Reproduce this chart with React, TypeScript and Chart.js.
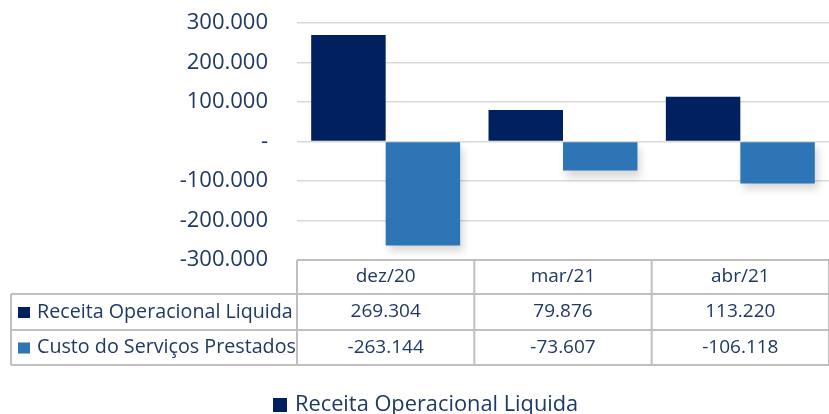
import React, { useEffect, useRef } from "react";
import { Chart, registerables } from "chart.js";

Chart.register(...registerables);

const categories = ["dez/20", "mar/21", "abr/21"];
const seriesNames = ["Receita Operacional Liquida", "Custo do Serviços Prestados"];
const receita = [269304, 79876, 113220];
const custo = [-263144, -73607, -106118];
const tableRow1 = ["269.304", "79.876", "113.220"];
const tableRow2 = ["-263.144", "-73.607", "-106.118"];
const colors = ["#002060", "#2E75B6"];

const TEXT = "#1F3864";
const FONT = "'Open Sans', 'Noto Sans', sans-serif";

function fmt(v: number): string {
  if (v === 0) return "-";
  const s = Math.abs(v).toString().replace(/\B(?=(\d{3})+(?!\d))/g, ".");
  return (v < 0 ? "-" : "") + s;
}

const shadowPlugin = {
  id: "barShadow",
  beforeDatasetDraw(chart: any, args: any) {
    if (args.index !== 1) return;
    const ctx = chart.ctx;
    ctx.save();
    ctx.shadowColor = "rgba(0,0,0,0.16)";
    ctx.shadowBlur = 8;
    ctx.shadowOffsetX = 3;
    ctx.shadowOffsetY = 6;
  },
  afterDatasetDraw(chart: any, args: any) {
    if (args.index !== 1) return;
    chart.ctx.restore();
  },
};

const tablePlugin = {
  id: "dataTable",
  afterDraw(chart: any) {
    const ctx = chart.ctx;
    const area = chart.chartArea;
    const xs = chart.scales.x;
    const n = categories.length;
    const colW = (area.right - area.left) / n;
    const left = 11;
    const yTop = area.bottom;
    const y1 = 294;
    const y2 = 330;
    const y3 = 365;
    const right = area.right + 2;
    ctx.save();
    ctx.strokeStyle = "#BFBFBF";
    ctx.lineWidth = 2;
    ctx.beginPath();
    ctx.moveTo(area.left, yTop);
    ctx.lineTo(right, yTop);
    ctx.moveTo(left, y1);
    ctx.lineTo(right, y1);
    ctx.moveTo(left, y2);
    ctx.lineTo(right, y2);
    ctx.moveTo(left, y3);
    ctx.lineTo(right, y3);
    ctx.moveTo(left, y1);
    ctx.lineTo(left, y3);
    for (let i = 0; i <= n; i++) {
      const x = area.left + i * colW;
      ctx.moveTo(x, yTop);
      ctx.lineTo(x, y3);
    }
    ctx.stroke();

    ctx.fillStyle = TEXT;
    ctx.font = `19px ${FONT}`;
    ctx.textAlign = "center";
    ctx.textBaseline = "middle";
    for (let i = 0; i < n; i++) {
      const cx = xs.getPixelForValue(i);
      ctx.fillText(categories[i], cx, (yTop + y1) / 2);
      ctx.fillText(tableRow1[i], cx, (y1 + y2) / 2);
      ctx.fillText(tableRow2[i], cx, (y2 + y3) / 2);
    }
    ctx.textAlign = "left";
    ctx.font = `19.7px ${FONT}`;
    const rows = [
      { y: (y1 + y2) / 2, name: seriesNames[0], c: colors[0] },
      { y: (y2 + y3) / 2, name: seriesNames[1], c: colors[1] },
    ];
    for (const r of rows) {
      ctx.fillStyle = r.c;
      ctx.fillRect(18, r.y - 5, 12, 11);
      ctx.fillStyle = TEXT;
      ctx.fillText(r.name, 37, r.y);
    }
    ctx.font = `21.8px ${FONT}`;
    ctx.fillStyle = colors[0];
    ctx.fillRect(273, 398, 14, 14);
    ctx.fillStyle = TEXT;
    ctx.fillText(seriesNames[0], 295, 405);
    ctx.restore();
  },
};

export default function App() {
  const ref = useRef<HTMLCanvasElement | null>(null);
  useEffect(() => {
    document.body.style.margin = "0";
    const canvas = ref.current;
    if (!canvas) return;
    const chart = new Chart(canvas, {
      type: "bar",
      data: {
        labels: categories,
        datasets: [
          {
            label: seriesNames[0],
            data: receita,
            backgroundColor: colors[0],
            categoryPercentage: 0.84,
            barPercentage: 1.0,
          },
          {
            label: seriesNames[1],
            data: custo,
            backgroundColor: colors[1],
            categoryPercentage: 0.84,
            barPercentage: 1.0,
          },
        ],
      },
      options: {
        animation: false,
        responsive: false,
        maintainAspectRatio: false,
        layout: { padding: { top: 23, bottom: 154, left: 0, right: 0 } },
        plugins: {
          legend: { display: false },
          tooltip: { enabled: false },
        },
        scales: {
          x: {
            display: false,
            offset: true,
          },
          y: {
            min: -300000,
            max: 300000,
            afterFit(scale: any) {
              scale.width = 297;
              scale.paddingTop = 0;
              scale.paddingBottom = 0;
            },
            ticks: {
              stepSize: 100000,
              padding: 29,
              color: TEXT,
              font: { family: FONT, size: 22 },
              callback: (v: any) => fmt(Number(v)),
            },
            grid: {
              color: "#D9D9D9",
              lineWidth: 1.5,
              drawTicks: false,
            },
            border: { display: false },
          },
        },
      },
      plugins: [shadowPlugin, tablePlugin],
    });
    return () => chart.destroy();
  }, []);
  return (
    <div style={{ width: 829, height: 414 }}>
      <canvas ref={ref} width={829} height={414} style={{ display: "block" }} />
    </div>
  );
}
